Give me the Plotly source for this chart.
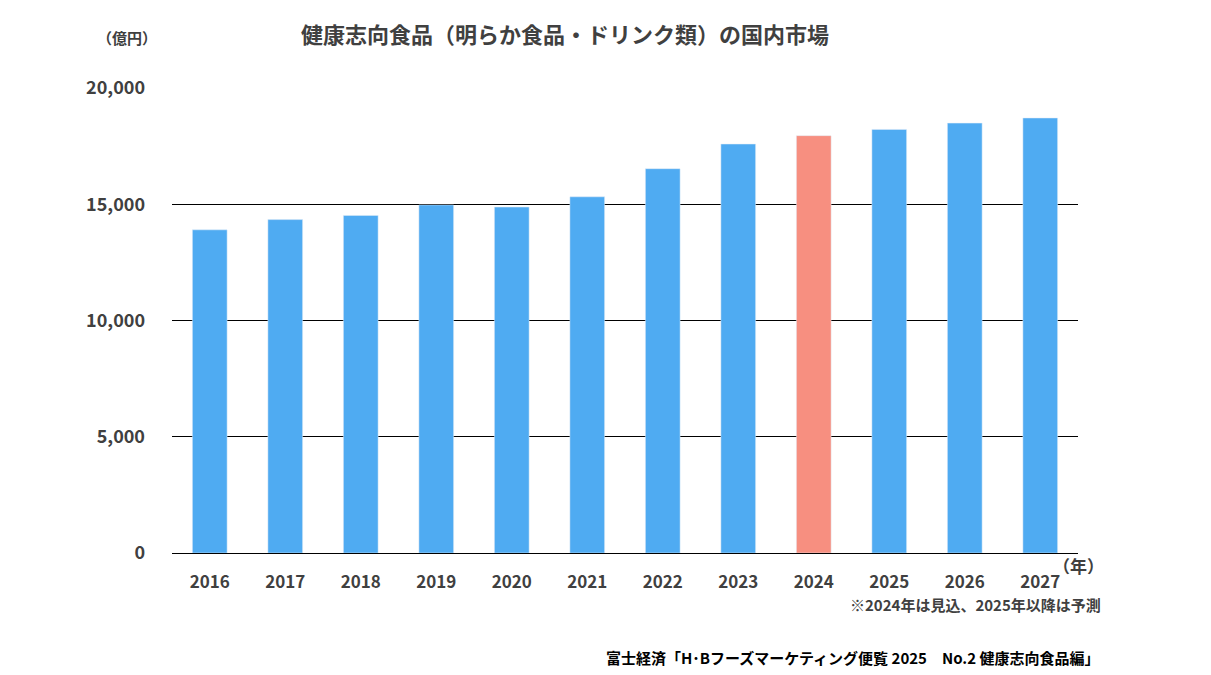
import plotly.graph_objects as go

years = ["2016","2017","2018","2019","2020","2021","2022","2023","2024","2025","2026","2027"]
values = [13900,14340,14520,14970,14880,15320,16530,17590,17950,18220,18490,18710]
colors = ["#4FABF2"]*8 + ["#F78F80"] + ["#4FABF2"]*3
yticks = [0,5000,10000,15000,20000]
ytext = ["0","5,000","10,000","15,000","20,000"]

F = "Noto Sans CJK JP"
L, R, T, B = 164, 141, 80, 130
fig = go.Figure(go.Bar(x=years, y=values, marker_color=colors, width=0.46))
fig.update_layout(
    width=1211, height=675, plot_bgcolor="white", paper_bgcolor="white",
    margin=dict(l=L, r=R, t=T, b=B), showlegend=False,
    font=dict(family=F, color="#404040"),
)
fig.update_yaxes(range=[0,20000], tickvals=yticks, ticktext=ytext, showgrid=True,
                 gridcolor="#000000", gridwidth=1, zeroline=False, showline=False,
                 tickfont=dict(size=18, color="#404040", family=F, weight="bold"), ticks="", ticklabelstandoff=26)
fig.update_xaxes(showline=True, linecolor="#000000", ticks="", ticklabelstandoff=14,
                 tickfont=dict(size=17, color="#404040", family=F, weight="bold"))
W, H = 1211 - 8, 675 - 8
ann = [
    dict(text="<b>健康志向食品（明らか食品・ドリンク類）の国内市場</b>", x=565, y=33, size=22, color="#404040", xa="center"),
    dict(text="<b>（億円）</b>", x=127, y=37, size=15, color="#404040", xa="center"),
    dict(text="<b>（年）</b>", x=1078, y=565, size=17, color="#404040", xa="center"),
    dict(text="<b>※2024年は見込、2025年以降は予測</b>", x=1103, y=604, size=15, color="#404040", xa="right"),
    dict(text="<b>富士経済「H･Bフーズマーケティング便覧 2025　No.2 健康志向食品編」</b>", x=1102, y=657, size=15, color="#000000", xa="right"),
]
pw = 1211 - L - R
ph = 675 - T - B
for a in ann:
    fig.add_annotation(text=a["text"], xref="paper", yref="paper",
                       x=(a["x"] - 8 - L) / pw, y=(675 - B - (a["y"] - 8)) / ph,
                       showarrow=False, font=dict(size=a["size"], color=a["color"], family=F),
                       xanchor=a["xa"], yanchor="middle")
fig.write_html("out.html")
